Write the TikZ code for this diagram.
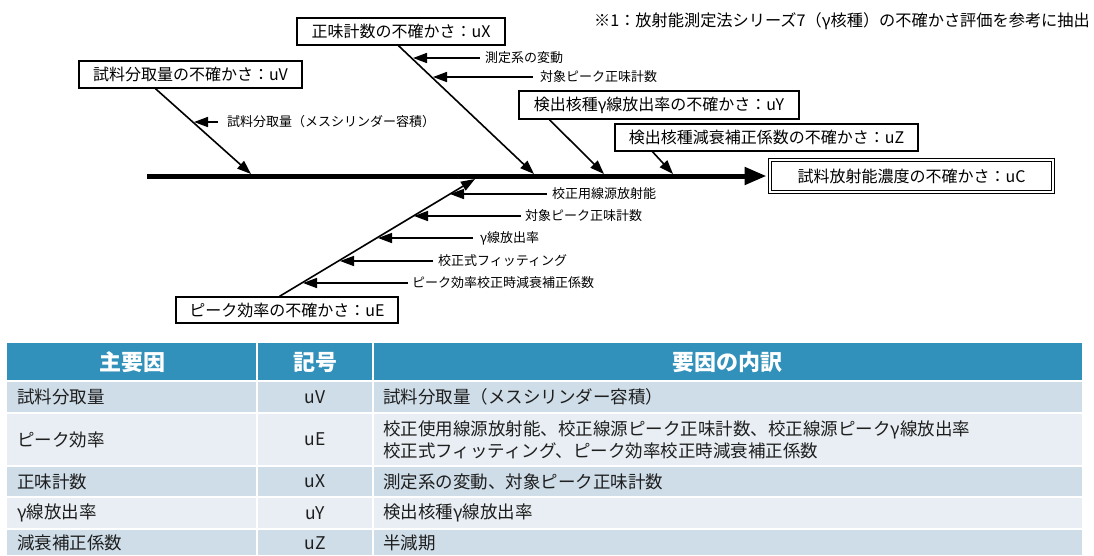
\documentclass[tikz,border=0pt]{standalone}
\usepackage{fontspec}
\setmainfont{Noto Sans CJK JP}
\usetikzlibrary{arrows.meta,calc}
\definecolor{hdr}{RGB}{50,145,186}
\definecolor{rowA}{RGB}{206,221,232}
\definecolor{rowB}{RGB}{232,238,243}
\definecolor{txt}{RGB}{30,30,30}
\begin{document}
\begin{tikzpicture}[x=1pt,y=-1pt,
  causebox/.style={draw, line width=1.2pt, inner sep=0pt, font=\fontsize{16}{18}\selectfont},
  bone/.style={line width=1.6pt, -{Triangle[length=14pt,width=10pt]}},
  sublbl/.style={inner sep=0pt, anchor=west, font=\fontsize{13}{15}\selectfont},
  subarrow/.style={line width=1.6pt, -{Triangle[length=14pt,width=10pt]}},
  cell/.style={inner sep=0pt, text=txt, font=\fontsize{17.5}{22}\selectfont},
  hcell/.style={inner sep=0pt, text=white, font=\fontsize{22}{24}\selectfont\bfseries},
  sep/.style={white, line width=2pt}
]
\useasboundingbox (0,0) rectangle (1094,555);
\fill[white] (0,0) rectangle (1094,555);

% note
\node[anchor=east, inner sep=0pt, font=\fontsize{16.2}{18}\selectfont] (note) at (1090,21) {※1：放射能測定法シリーズ7（γ核種）の不確かさ評価を参考に抽出};

% cause boxes
\node[causebox, minimum width=223pt, minimum height=27pt] (uV) at (190.5,74.5) {試料分取量の不確かさ：uV};
\node[causebox, minimum width=208pt, minimum height=27pt] (uX) at (401,31.5) {正味計数の不確かさ：uX};
\node[causebox, minimum width=280pt, minimum height=28pt] (uY) at (659,105) {検出核種γ線放出率の不確かさ：uY};
\node[causebox, minimum width=303pt, minimum height=27pt] (uZ) at (766.5,137.5) {検出核種減衰補正係数の不確かさ：uZ};
\node[causebox, minimum width=222pt, minimum height=26pt] (uE) at (287,310) {ピーク効率の不確かさ：uE};
\node[draw, double, double distance=2pt, line width=1pt, inner sep=0pt,
      minimum width=283pt, minimum height=32pt, font=\fontsize{16}{18}\selectfont] (uC) at (911.5,176) {試料放射能濃度の不確かさ：uC};

% spine
\coordinate (s0) at (147,176);
\draw[line width=5pt, -{Triangle[length=22pt,width=17pt]}, shorten >=3pt] (s0) -- (uC.west);

% branches
\coordinate (tV) at (251,174);
\coordinate (tX) at (534,174);
\coordinate (tY) at (604,174);
\coordinate (tZ) at (673,174);
\coordinate (tE) at (475,179);
\draw[bone] ($(uV.south west)+(77,0)$) -- (tV);
\draw[bone] ($(uX.south west)+(102,0)$) -- (tX);
\draw[bone] ($(uY.south west)+(31,0)$) -- (tY);
\draw[bone] ($(uZ.south west)+(38,0)$) -- (tZ);
\draw[bone] ($(uE.north west)+(104,0)$) -- (tE);

% sub causes
\node[sublbl] (a1) at (227,122) {試料分取量（メスシリンダー容積）};
\coordinate (a1t) at (194,122);
\draw[subarrow] ($(a1.west)+(-9,0)$) -- (a1t);

\node[sublbl] (b1) at (485,58) {測定系の変動};
\coordinate (b1t) at (413,58);
\draw[subarrow] ($(b1.west)+(-5,0)$) -- (b1t);
\node[sublbl] (b2) at (540,77) {対象ピーク正味計数};
\coordinate (b2t) at (433,77);
\draw[subarrow] ($(b2.west)+(-7,0)$) -- (b2t);

\node[sublbl] (c1) at (552,194) {校正用線源放射能};
\coordinate (c1t) at (450,194);
\draw[subarrow] ($(c1.west)+(-5,0)$) -- (c1t);
\node[sublbl] (c2) at (525,216) {対象ピーク正味計数};
\coordinate (c2t) at (414,216);
\draw[subarrow] ($(c2.west)+(-4,0)$) -- (c2t);
\node[sublbl] (c3) at (480,238) {γ線放出率};
\coordinate (c3t) at (378,238);
\draw[subarrow] ($(c3.west)+(-7,0)$) -- (c3t);
\node[sublbl] (c4) at (438,261) {校正式フィッティング};
\coordinate (c4t) at (340,261);
\draw[subarrow] ($(c4.west)+(-5,0)$) -- (c4t);
\node[sublbl] (c5) at (412,283) {ピーク効率校正時減衰補正係数};
\coordinate (c5t) at (303,283);
\draw[subarrow] ($(c5.west)+(-4,0)$) -- (c5t);

% table
\fill[hdr] (7,343) rectangle (1082,381);
\fill[rowA] (7,381) rectangle (1082,413);
\fill[rowB] (7,413) rectangle (1082,466);
\fill[rowA] (7,466) rectangle (1082,497);
\fill[rowB] (7,497) rectangle (1082,529);
\fill[rowA] (7,529) rectangle (1082,555);
\foreach \yy in {381,413,466,497,529} \draw[sep] (7,\yy) -- (1082,\yy);
\draw[sep] (257,343) -- (257,555);
\draw[sep] (373,343) -- (373,555);

\node[hcell] (h1) at (132,362) {主要因};
\node[hcell] (h2) at (315,362) {記号};
\node[hcell] (h3) at (727.5,362) {要因の内訳};

\node[cell, anchor=west] (r1a) at (17,397) {試料分取量};
\node[cell] (r1b) at (315,397) {uV};
\node[cell, anchor=west] (r1c) at (383,397) {試料分取量（メスシリンダー容積）};

\node[cell, anchor=west] (r2a) at (17,439.5) {ピーク効率};
\node[cell] (r2b) at (315,439.5) {uE};
\node[cell, anchor=west, align=left] (r2c) at (383,439.5) {校正使用線源放射能、校正線源ピーク正味計数、校正線源ピークγ線放出率\\校正式フィッティング、ピーク効率校正時減衰補正係数};

\node[cell, anchor=west] (r3a) at (17,481.5) {正味計数};
\node[cell] (r3b) at (315,481.5) {uX};
\node[cell, anchor=west] (r3c) at (383,481.5) {測定系の変動、対象ピーク正味計数};

\node[cell, anchor=west] (r4a) at (17,513) {γ線放出率};
\node[cell] (r4b) at (315,513) {uY};
\node[cell, anchor=west] (r4c) at (383,513) {検出核種γ線放出率};

\node[cell, anchor=west] (r5a) at (17,543) {減衰補正係数};
\node[cell] (r5b) at (315,543) {uZ};
\node[cell, anchor=west] (r5c) at (383,543) {半減期};
\end{tikzpicture}
\end{document}
